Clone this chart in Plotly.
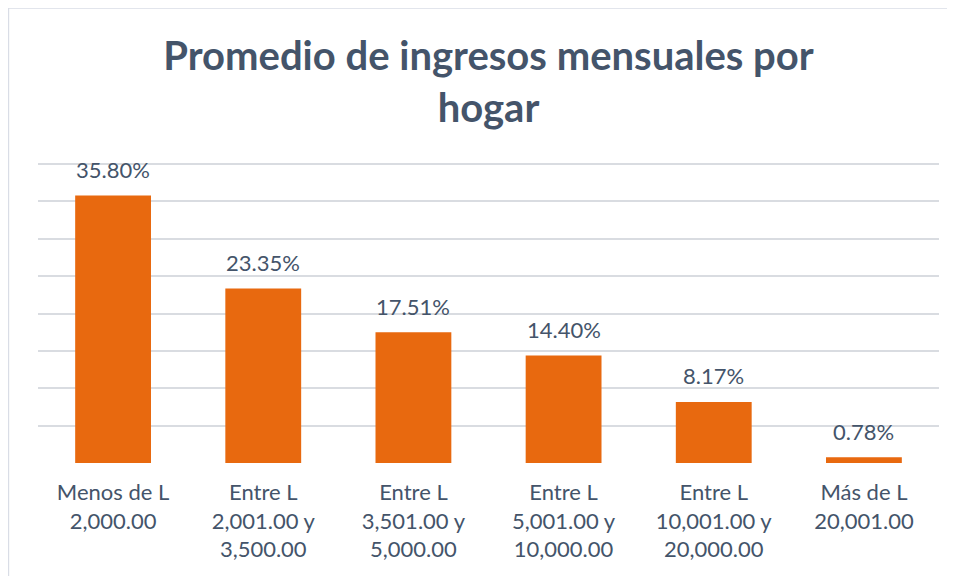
import plotly.graph_objects as go

categories = [
    "Menos de L<br>2,000.00",
    "Entre L<br>2,001.00 y<br>3,500.00",
    "Entre L<br>3,501.00 y<br>5,000.00",
    "Entre L<br>5,001.00 y<br>10,000.00",
    "Entre L<br>10,001.00 y<br>20,000.00",
    "Más de L<br>20,001.00",
]
values = [35.80, 23.35, 17.51, 14.40, 8.17, 0.78]
labels = ["35.80%", "23.35%", "17.51%", "14.40%", "8.17%", "0.78%"]

text_color = "#44546A"
font_family = "Lato, 'Open Sans', sans-serif"

fig = go.Figure()
fig.add_trace(go.Bar(
    x=categories,
    y=values,
    marker=dict(color="#E8690F", line=dict(width=0)),
    hoverinfo="skip",
))

for c, v, t in zip(categories, values, labels):
    fig.add_annotation(
        x=c, y=v, text=t, showarrow=False,
        yanchor="middle", yshift=26,
        font=dict(family=font_family, size=22, color=text_color),
    )

# chart frame (light border at left and top)
fig.add_shape(
    type="rect", xref="paper", yref="paper",
    x0=-0.0328, x1=1.2, y0=-0.5, y1=1.517,
    line=dict(color="#D9DDE6", width=1.5), fillcolor="rgba(0,0,0,0)",
    layer="below",
)

fig.update_layout(
    width=955, height=576,
    margin=dict(l=30, r=24, t=155, b=121),
    paper_bgcolor="white", plot_bgcolor="white",
    bargap=0.495,
    showlegend=False,
    title=dict(
        text="<b>Promedio de ingresos mensuales por<br>hogar</b>",
        x=0.5, xref="paper", xanchor="center",
        y=0.893, yref="container", yanchor="top",
        font=dict(family=font_family, size=40, color=text_color),
    ),
    xaxis=dict(
        showgrid=False, showline=False, zeroline=False,
        ticks="", ticklabelstandoff=14,
        tickfont=dict(family=font_family, size=22, color=text_color),
    ),
    yaxis=dict(
        range=[0, 40.15], tickvals=[0, 5, 10, 15, 20, 25, 30, 35, 40],
        showticklabels=False,
        showgrid=True, gridcolor="#D9DCE1", gridwidth=1.5,
        zeroline=False, showline=False, ticks="",
    ),
)

fig.write_html("out.html")
